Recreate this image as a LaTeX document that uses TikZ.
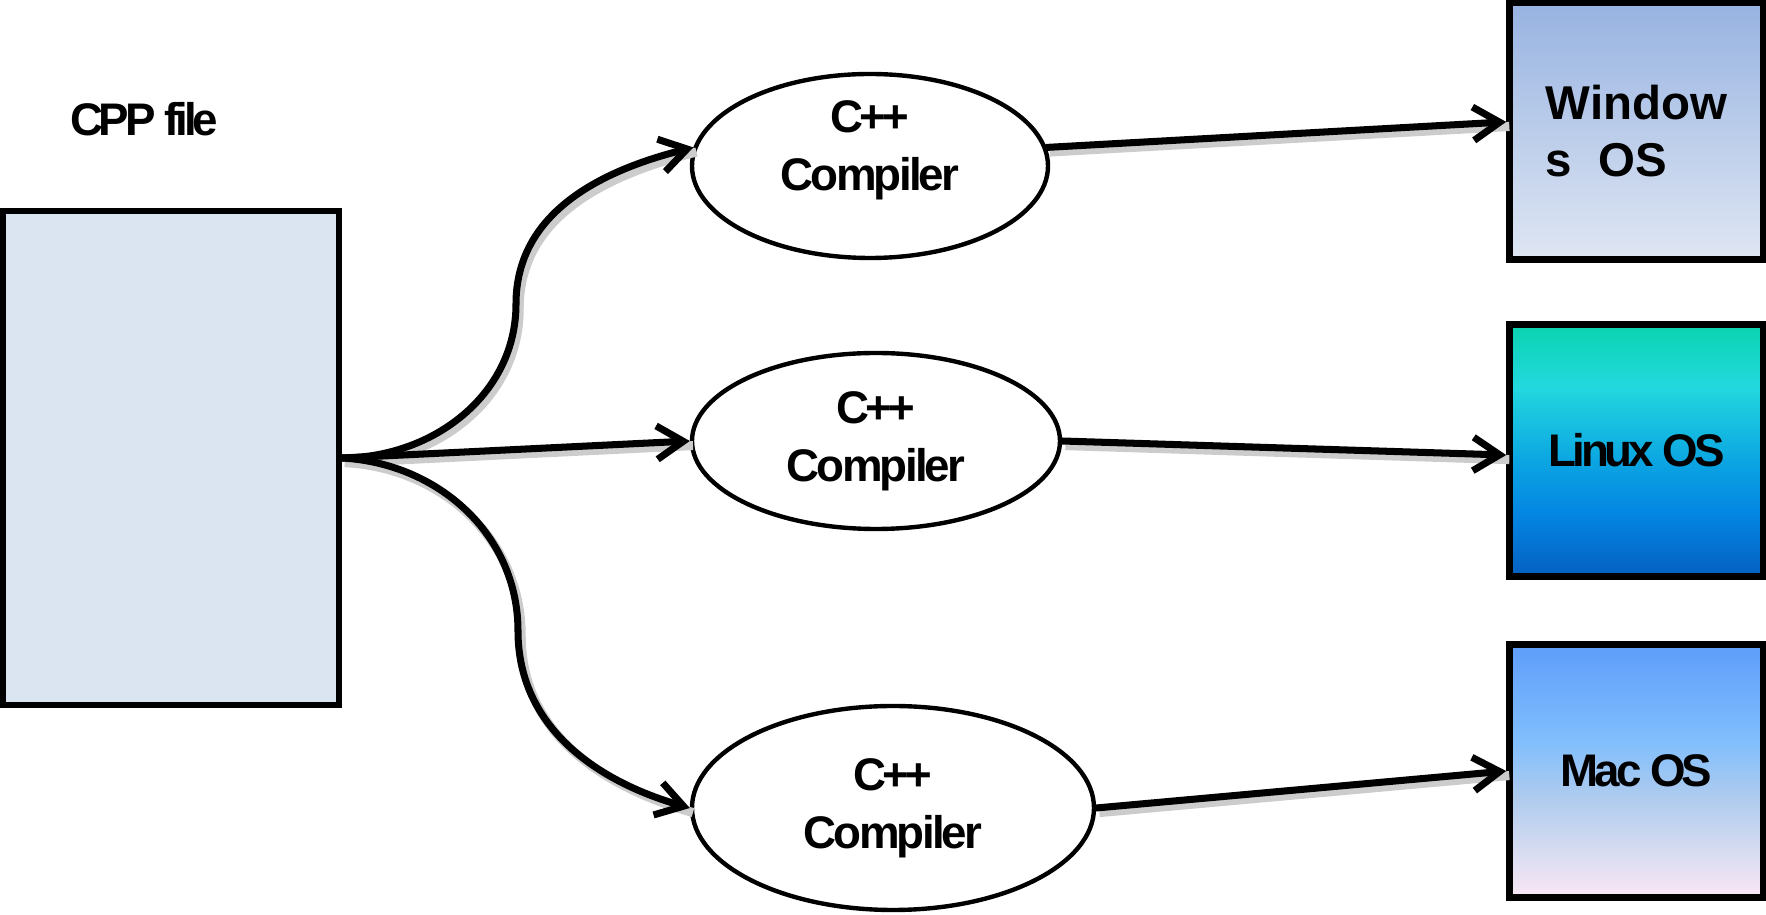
\documentclass[tikz,border=0pt]{standalone}
\usepackage{fontspec}
\setmainfont{Liberation Sans}
\newfontfamily\tightfont{Liberation Sans}[LetterSpace=-6]
\newfontfamily\tighterfont{Liberation Sans}[LetterSpace=-9]
\usetikzlibrary{shapes.geometric,arrows.meta}
\definecolor{filebg}{HTML}{DBE5F1}
\definecolor{wintop}{HTML}{97B3E1}
\definecolor{winbot}{HTML}{DFE6F3}
\definecolor{linA}{HTML}{0560C2}
\definecolor{linB}{HTML}{0486E2}
\definecolor{linC}{HTML}{0BA4E2}
\definecolor{linD}{HTML}{22D8DE}
\definecolor{linE}{HTML}{0AD4B0}
\definecolor{macA}{HTML}{FAE8F6}
\definecolor{macB}{HTML}{D4DAF0}
\definecolor{macC}{HTML}{AECBEE}
\definecolor{macD}{HTML}{80BEFD}
\definecolor{macE}{HTML}{5E9DFA}
\pgfdeclareverticalshading{linuxshade}{100bp}{color(0bp)=(linA); color(25bp)=(linA); color(37.5bp)=(linB); color(47.5bp)=(linC); color(62.5bp)=(linD); color(75bp)=(linE); color(100bp)=(linE)}
\pgfdeclareverticalshading{macshade}{100bp}{color(0bp)=(macA); color(25bp)=(macA); color(35bp)=(macB); color(45bp)=(macC); color(56bp)=(macD); color(75bp)=(macE); color(100bp)=(macE)}
\tikzset{
  filebox/.style={draw=black, line width=1.7pt, fill=filebg, minimum width=3.355cm, minimum height=4.94cm, inner sep=0pt},
  osbox/.style={draw=black, line width=1.9pt, minimum width=2.54cm, inner sep=0pt},
  compiler/.style={ellipse, draw=black, line width=1.25pt, inner sep=0pt, align=center, font=\fontsize{13}{16.5}\selectfont\tightfont\bfseries},
  lab/.style={font=\fontsize{13}{16}\selectfont\tighterfont\bfseries},
  lineshadow/.style={preaction={draw=black!20, line width=2.6pt, -, transform canvas={shift={(0.9pt,-1.3pt)}}}},
  link/.style={lineshadow, line width=2pt, line cap=round, -{Straight Barb[length=7.5pt,width=9.5pt]}},
}
\begin{document}
\begin{tikzpicture}
  \useasboundingbox (0,0) rectangle (17.66,9.15);
  % source file
  \node[filebox] (cpp) at (1.71,4.57) {};
  \node[lab] (cpplab) at (1.44,7.96) {CPP file};
  % compilers
  \node[compiler, minimum width=3.56cm, minimum height=1.84cm, text depth=0.4cm] (c1) at (8.70,7.49) {{\tighterfont C++}\\Compiler};
  \node[compiler, minimum width=3.68cm, minimum height=1.76cm] (c2) at (8.76,4.74) {{\tighterfont C++}\\Compiler};
  \node[compiler, minimum width=4.02cm, minimum height=2.04cm] (c3) at (8.93,1.07) {{\tighterfont C++}\\Compiler};
  % target systems
  \node[osbox, minimum height=2.57cm, top color=wintop, bottom color=winbot, align=left, font=\fontsize{13.5}{16}\selectfont\bfseries] (win) at (16.365,7.84) {Window\\s~~OS};
  \node[osbox, minimum height=2.52cm, shade, shading=linuxshade, lab] (linux) at (16.365,4.645) {Linux OS};
  \node[osbox, minimum height=2.53cm, shade, shading=macshade, lab] (mac) at (16.365,1.44) {Mac OS};
  % bends of the curved connectors
  \coordinate (bendup) at (5.16,6.11);
  \coordinate (benddown) at (5.18,2.84);
  % connectors
  \draw[link] (cpp.east) to[out=0,in=-90] (bendup) to[out=90,in=194] (c1.174);
  \draw[link] (cpp.east) -- (c2.west);
  \draw[link] (cpp.east) to[out=-3,in=90] (benddown) to[out=-90,in=164] (c3.west);
  \draw[link] (c1.6) -- (win.176);
  \draw[link] (c2.east) -- (linux.182);
  \draw[link] (c3.east) -- (mac.west);
\end{tikzpicture}
\end{document}
